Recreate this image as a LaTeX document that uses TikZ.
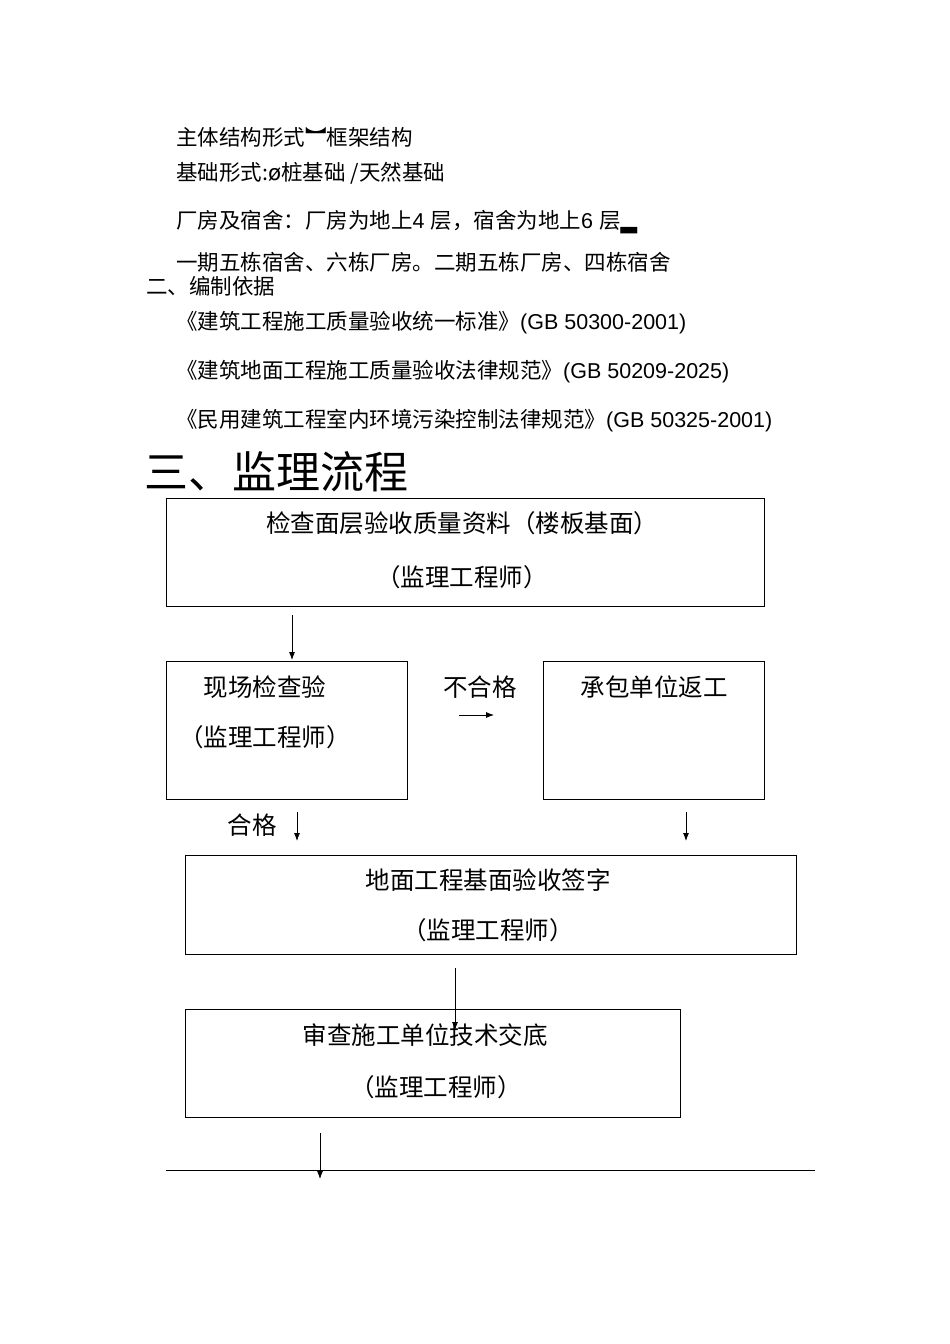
\documentclass[tikz,border=0pt]{standalone}
\usepackage{fontspec}
\setmainfont{Liberation Sans}
\newfontfamily\cjk{Noto Sans CJK SC}
\newfontfamily\dv{DejaVu Sans}
\usetikzlibrary{arrows.meta}
\begin{document}
\begin{tikzpicture}[x=1pt,y=-1pt,
  box/.style={draw,line width=0.8pt},
  arr/.style={-{Latex[length=8pt,width=6pt]},line width=0.8pt},
  t/.style={anchor=west,inner sep=0pt,font=\cjk\fontsize{21.5}{22}\selectfont},
  bt/.style={inner sep=0pt,font=\cjk\fontsize{24.5}{25}\selectfont}]
\useasboundingbox[fill=white] (0,0) rectangle (950,1344);
\node[t] (l1) at (176,137) {主体结构形式︼框架结构};
\node[t] (l2) at (176,173) {基础形式:{\dv ø}桩基础 /天然基础};
\node[t] (l3) at (176,222) {厂房及宿舍：厂房为地上{\fontspec{Liberation Sans} 4 }层，宿舍为地上{\fontspec{Liberation Sans} 6 }层{\dv ▂}};
\node[t] (l4) at (176,262) {一期五栋宿舍、六栋厂房。二期五栋厂房、四栋宿舍};
\node[t] (l5) at (146,286) {二、编制依据};
\node[t] (r1) at (176,323) {《建筑工程施工质量验收统一标准》{\fontspec{Liberation Sans}(GB 50300-2001)}};
\node[t] (r2) at (176,372) {《建筑地面工程施工质量验收法律规范》{\fontspec{Liberation Sans}(GB 50209-2025)}};
\node[t] (r3) at (176,421) {《民用建筑工程室内环境污染控制法律规范》{\fontspec{Liberation Sans}(GB 50325-2001)}};
\node[anchor=west,inner sep=0pt,font=\cjk\fontsize{44}{44}\selectfont] (title) at (144,472) {三、监理流程};

\draw[box] (166,498) rectangle (764,606);
\node[bt] (b1a) at (462,523) {检查面层验收质量资料（楼板基面）};
\node[bt] (b1b) at (462,577) {（监理工程师）};
\draw[box] (166,661) rectangle (407,799);
\node[bt] (b2a) at (265,687) {现场检查验};
\node[bt] (b2b) at (265,737) {（监理工程师）};
\draw[box] (543,661) rectangle (764,799);
\node[bt] (b3a) at (654,687) {承包单位返工};
\node[bt] (ng) at (480,687) {不合格};
\node[bt] (ok) at (252,825) {合格};
\draw[box] (185,855) rectangle (796,954);
\node[bt] (b4a) at (488,880) {地面工程基面验收签字};
\node[bt] (b4b) at (488,930) {（监理工程师）};
\draw[box] (185,1009) rectangle (680,1117);
\node[bt] (b5a) at (425,1035) {审查施工单位技术交底};
\node[bt] (b5b) at (436,1087) {（监理工程师）};

\coordinate (a1s) at (292,615); \coordinate (a1e) at (292,660);
\draw[arr] (a1s) -- (a1e);
\coordinate (a2s) at (459,715); \coordinate (a2e) at (494,715);
\draw[arr] (a2s) -- (a2e);
\coordinate (a3s) at (297,812); \coordinate (a3e) at (297,841);
\draw[arr] (a3s) -- (a3e);
\coordinate (a4s) at (686,812); \coordinate (a4e) at (686,841);
\draw[arr] (a4s) -- (a4e);
\coordinate (a5s) at (455,968); \coordinate (a5e) at (455,1030);
\draw[arr] (a5s) -- (a5e);
\coordinate (a6s) at (320,1133); \coordinate (a6e) at (320,1179);
\draw[arr] (a6s) -- (a6e);
\coordinate (h1) at (166,1170); \coordinate (h2) at (815,1170);
\draw[line width=0.8pt] (h1) -- (h2);
\end{tikzpicture}
\end{document}
